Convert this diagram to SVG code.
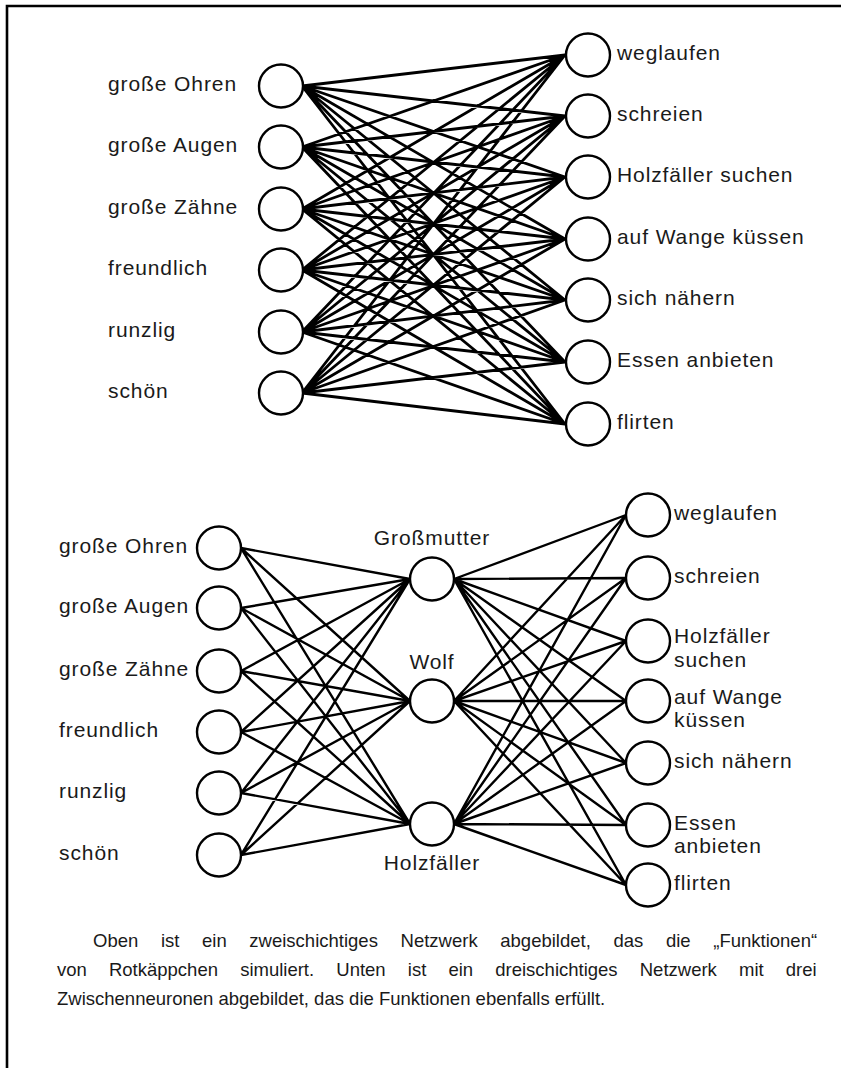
<svg xmlns="http://www.w3.org/2000/svg" width="841" height="1068" viewBox="0 0 841 1068">
  <style>
    .frame { stroke: #000; stroke-width: 2.6; fill: none; }
    .node { fill: #fff; stroke: #000; stroke-width: 2.4; }
    .edge { stroke: #000; stroke-width: 2.4; stroke-linecap: round; fill: none; }
    .dense { stroke-width: 2.8; }
    .lbl { font-family: "Liberation Sans", Arial, sans-serif; font-size: 21px; letter-spacing: 0.9px; fill: #1a1a1a; }
    .mid { text-anchor: middle; }
    .cap { font-family: "Liberation Sans", Arial, sans-serif; font-size: 18.5px; fill: #1a1a1a; }
  </style>

  <!-- page frame: top and left rule -->
  <path class="frame" d="M7 1068 V6 H841"/>

  <!-- ===== two-layer network ===== -->
  <g id="top-connectors">
    <!-- every input (x=302) to every output (x=565) -->
    <path class="edge dense" d="
      M302 86 L565 55 M302 86 L565 116 M302 86 L565 177 M302 86 L565 239 M302 86 L565 300 M302 86 L565 362 M302 86 L565 424
      M302 147 L565 55 M302 147 L565 116 M302 147 L565 177 M302 147 L565 239 M302 147 L565 300 M302 147 L565 362 M302 147 L565 424
      M302 209 L565 55 M302 209 L565 116 M302 209 L565 177 M302 209 L565 239 M302 209 L565 300 M302 209 L565 362 M302 209 L565 424
      M302 270 L565 55 M302 270 L565 116 M302 270 L565 177 M302 270 L565 239 M302 270 L565 300 M302 270 L565 362 M302 270 L565 424
      M302 332 L565 55 M302 332 L565 116 M302 332 L565 177 M302 332 L565 239 M302 332 L565 300 M302 332 L565 362 M302 332 L565 424
      M302 393 L565 55 M302 393 L565 116 M302 393 L565 177 M302 393 L565 239 M302 393 L565 300 M302 393 L565 362 M302 393 L565 424"/>
  </g>

  <g id="top-in-ohren"><ellipse class="node" cx="281" cy="86" rx="22" ry="21.5"/><text class="lbl" x="108" y="91">große Ohren</text></g>
  <g id="top-in-augen"><ellipse class="node" cx="281" cy="147" rx="22" ry="21.5"/><text class="lbl" x="108" y="152">große Augen</text></g>
  <g id="top-in-zaehne"><ellipse class="node" cx="281" cy="209" rx="22" ry="21.5"/><text class="lbl" x="108" y="214">große Zähne</text></g>
  <g id="top-in-freundlich"><ellipse class="node" cx="281" cy="270" rx="22" ry="21.5"/><text class="lbl" x="108" y="275">freundlich</text></g>
  <g id="top-in-runzlig"><ellipse class="node" cx="281" cy="332" rx="22" ry="21.5"/><text class="lbl" x="108" y="337">runzlig</text></g>
  <g id="top-in-schoen"><ellipse class="node" cx="281" cy="393" rx="22" ry="21.5"/><text class="lbl" x="108" y="398">schön</text></g>

  <g id="top-out-weglaufen"><ellipse class="node" cx="588" cy="55" rx="22" ry="21.5"/><text class="lbl" x="617" y="60">weglaufen</text></g>
  <g id="top-out-schreien"><ellipse class="node" cx="588" cy="116" rx="22" ry="21.5"/><text class="lbl" x="617" y="121">schreien</text></g>
  <g id="top-out-holzfaeller"><ellipse class="node" cx="588" cy="177" rx="22" ry="21.5"/><text class="lbl" x="617" y="182">Holzfäller suchen</text></g>
  <g id="top-out-kuessen"><ellipse class="node" cx="588" cy="239" rx="22" ry="21.5"/><text class="lbl" x="617" y="244">auf Wange küssen</text></g>
  <g id="top-out-naehern"><ellipse class="node" cx="588" cy="300" rx="22" ry="21.5"/><text class="lbl" x="617" y="305">sich nähern</text></g>
  <g id="top-out-essen"><ellipse class="node" cx="588" cy="362" rx="22" ry="21.5"/><text class="lbl" x="617" y="367">Essen anbieten</text></g>
  <g id="top-out-flirten"><ellipse class="node" cx="588" cy="424" rx="22" ry="21.5"/><text class="lbl" x="617" y="429">flirten</text></g>

  <!-- ===== three-layer network ===== -->
  <g id="bottom-connectors">
    <!-- inputs (x=241) to hidden neurons (x=410) -->
    <path class="edge" d="
      M241 548 L410 579 M241 548 L410 701 M241 548 L410 824
      M241 608 L410 579 M241 608 L410 701 M241 608 L410 824
      M241 671 L410 579 M241 671 L410 701 M241 671 L410 824
      M241 732 L410 579 M241 732 L410 701 M241 732 L410 824
      M241 793 L410 579 M241 793 L410 701 M241 793 L410 824
      M241 855 L410 579 M241 855 L410 701 M241 855 L410 824"/>
    <!-- hidden neurons (x=454) to outputs (x=626) -->
    <path class="edge" d="
      M454 579 L626 515 M454 579 L626 578 M454 579 L626 641 M454 579 L626 701 M454 579 L626 763 M454 579 L626 825 M454 579 L626 885
      M454 701 L626 515 M454 701 L626 578 M454 701 L626 641 M454 701 L626 701 M454 701 L626 763 M454 701 L626 825 M454 701 L626 885
      M454 824 L626 515 M454 824 L626 578 M454 824 L626 641 M454 824 L626 701 M454 824 L626 763 M454 824 L626 825 M454 824 L626 885"/>
  </g>

  <g id="bot-in-ohren"><ellipse class="node" cx="219" cy="548" rx="22" ry="21.5"/><text class="lbl" x="59" y="553">große Ohren</text></g>
  <g id="bot-in-augen"><ellipse class="node" cx="219" cy="608" rx="22" ry="21.5"/><text class="lbl" x="59" y="613">große Augen</text></g>
  <g id="bot-in-zaehne"><ellipse class="node" cx="219" cy="671" rx="22" ry="21.5"/><text class="lbl" x="59" y="676">große Zähne</text></g>
  <g id="bot-in-freundlich"><ellipse class="node" cx="219" cy="732" rx="22" ry="21.5"/><text class="lbl" x="59" y="737">freundlich</text></g>
  <g id="bot-in-runzlig"><ellipse class="node" cx="219" cy="793" rx="22" ry="21.5"/><text class="lbl" x="59" y="798">runzlig</text></g>
  <g id="bot-in-schoen"><ellipse class="node" cx="219" cy="855" rx="22" ry="21.5"/><text class="lbl" x="59" y="860">schön</text></g>

  <g id="hid-grossmutter"><ellipse class="node" cx="432" cy="579" rx="22" ry="21.5"/><text class="lbl mid" x="432" y="545">Großmutter</text></g>
  <g id="hid-wolf"><ellipse class="node" cx="432" cy="701" rx="22" ry="21.5"/><text class="lbl mid" x="432" y="669">Wolf</text></g>
  <g id="hid-holzfaeller"><ellipse class="node" cx="432" cy="824" rx="22" ry="21.5"/><text class="lbl mid" x="432" y="870">Holzfäller</text></g>

  <g id="bot-out-weglaufen"><ellipse class="node" cx="648" cy="515" rx="22" ry="21.5"/><text class="lbl" x="674" y="520">weglaufen</text></g>
  <g id="bot-out-schreien"><ellipse class="node" cx="648" cy="578" rx="22" ry="21.5"/><text class="lbl" x="674" y="583">schreien</text></g>
  <g id="bot-out-holzfaeller"><ellipse class="node" cx="648" cy="641" rx="22" ry="21.5"/><text class="lbl" x="674" y="643">Holzfäller</text><text class="lbl" x="674" y="667">suchen</text></g>
  <g id="bot-out-kuessen"><ellipse class="node" cx="648" cy="701" rx="22" ry="21.5"/><text class="lbl" x="674" y="704">auf Wange</text><text class="lbl" x="674" y="727">küssen</text></g>
  <g id="bot-out-naehern"><ellipse class="node" cx="648" cy="763" rx="22" ry="21.5"/><text class="lbl" x="674" y="768">sich nähern</text></g>
  <g id="bot-out-essen"><ellipse class="node" cx="648" cy="825" rx="22" ry="21.5"/><text class="lbl" x="674" y="830">Essen</text><text class="lbl" x="674" y="853">anbieten</text></g>
  <g id="bot-out-flirten"><ellipse class="node" cx="648" cy="885" rx="22" ry="21.5"/><text class="lbl" x="674" y="890">flirten</text></g>

  <!-- caption: first two lines justified by widening word gaps -->
  <g id="caption">
    <text class="cap" x="93" y="947" word-spacing="17.5">Oben ist ein zweischichtiges Netzwerk abgebildet, das die „Funktionen“</text>
    <text class="cap" x="57" y="976" word-spacing="17">von Rotkäppchen simuliert. Unten ist ein dreischichtiges Netzwerk mit drei</text>
    <text class="cap" x="57" y="1005">Zwischenneuronen abgebildet, das die Funktionen ebenfalls erfüllt.</text>
  </g>
</svg>
